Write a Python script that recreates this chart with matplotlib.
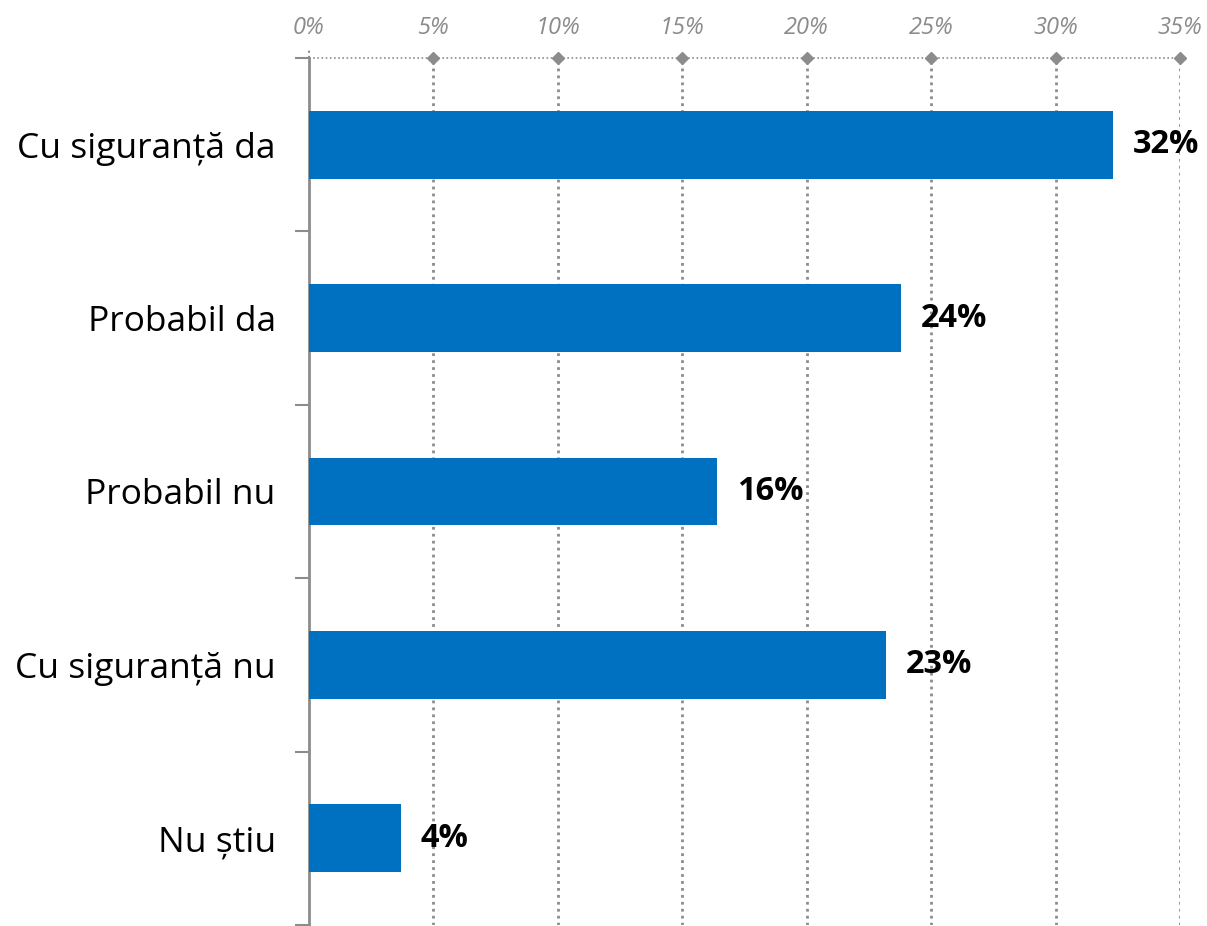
import matplotlib
matplotlib.use("Agg")
from matplotlib import pyplot as plt
from matplotlib import transforms

categories = ["Cu siguranță da", "Probabil da", "Probabil nu", "Cu siguranță nu", "Nu știu"]
values = [32.3, 23.8, 16.4, 23.2, 3.7]
value_labels = ["32%", "24%", "16%", "23%", "4%"]
x_ticks = [0, 5, 10, 15, 20, 25, 30, 35]
x_tick_labels = ["0%", "5%", "10%", "15%", "20%", "25%", "30%", "35%"]

plt.rcParams['font.family'] = ['Open Sans', 'DejaVu Sans']
grey = "#8c8c8c"
fig = plt.figure(figsize=(12.07, 9.26), dpi=100)
ax = fig.add_axes([309 / 1207, 1 - 925 / 926, (1180 - 309) / 1207, (925 - 58) / 926])

ypos = list(range(len(categories)))
ax.barh(ypos, values, height=0.39, color="#0070C0", zorder=3)
for y, v, lab in zip(ypos, values, value_labels):
    ax.text(v + 0.8, y, lab, va="center", ha="left", fontsize=23.5, fontweight="bold", zorder=5)

ax.set_xlim(0, 35)
ax.set_ylim(len(categories) - 0.5, -0.5)

# dotted grid + top axis
for t in x_ticks[1:]:
    ax.axvline(t, color=grey, lw=2, ls=(0, (1, 1.5)), zorder=1)
ax.axhline(-0.5, color=grey, lw=1.2, ls=(0, (1, 1.5)), zorder=2, clip_on=False)
ax.plot(x_ticks[1:], [-0.5] * (len(x_ticks) - 1), "D", color=grey, ms=6, clip_on=False, zorder=4)
tr = transforms.blended_transform_factory(ax.transData, ax.transAxes)
ax.plot([0, 0], [1.0, 1.012], color=grey, lw=1.5, ls=(0, (1, 1.5)), transform=tr, clip_on=False)

ax.xaxis.tick_top()
ax.set_xticks(x_ticks)
ax.set_xticklabels(x_tick_labels, fontsize=17, style="italic", color=grey)
ax.tick_params(axis="x", length=0, pad=13)

ax.set_yticks(ypos)
ax.set_yticklabels(categories, fontsize=25.5)
ax.tick_params(axis="y", length=0, pad=24)
ax.set_yticks([i - 0.5 for i in range(len(categories) + 1)], minor=True)
ax.tick_params(axis="y", which="minor", length=10, width=1.5, color=grey)

for s in ["top", "right", "bottom"]:
    ax.spines[s].set_visible(False)
ax.spines["left"].set_color(grey)
ax.spines["left"].set_linewidth(2)

fig.savefig("out.png", dpi=100)
